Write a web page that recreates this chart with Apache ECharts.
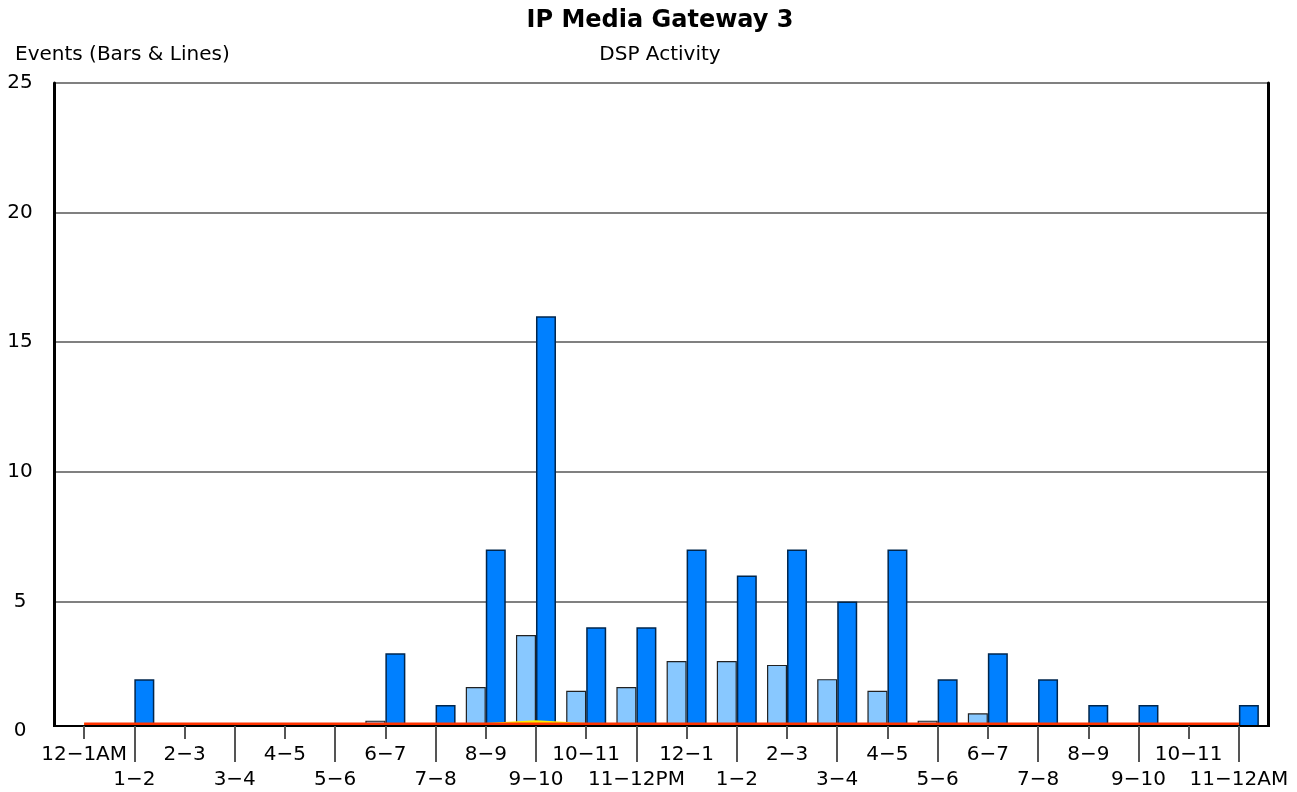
<!DOCTYPE html>
<html>
<head>
<meta charset="utf-8">
<title>IP Media Gateway 3</title>
<script src="https://cdn.jsdelivr.net/npm/echarts@6/dist/echarts.min.js"></script>
<style>
  html, body { margin: 0; padding: 0; background: #fff; }
  #chart { width: 1297px; height: 792px; }
</style>
</head>
<body>
<div id="chart"></div>
<script>
// hour buckets along the bottom
const hours = ['12−1AM', '1−2', '2−3', '3−4', '4−5', '5−6', '6−7', '7−8', '8−9', '9−10', '10−11', '11−12PM',
  '12−1', '1−2', '2−3', '3−4', '4−5', '5−6', '6−7', '7−8', '8−9', '9−10', '10−11', '11−12AM'];
// light blue bars
const lightBars = [0, 0, 0, 0, 0, 0, 0.4, 0, 1.7, 3.7, 1.55, 1.7, 2.7, 2.7, 2.55, 2, 1.55, 0.4, 0.68, 0, 0, 0, 0, 0];
// dark blue bars
const darkBars = [0, 2, 0, 0, 0, 0, 3, 1, 7, 16, 4, 4, 7, 6, 7, 5, 7, 2, 3, 2, 1, 1, 0, 1];
// the two lines near the floor
const yellowLine = [0.25, 0.25, 0.25, 0.25, 0.25, 0.25, 0.25, 0.25, 0.25, 0.36, 0.25, 0.25,
  0.25, 0.25, 0.25, 0.25, 0.25, 0.25, 0.25, 0.25, 0.25, 0.25, 0.25, 0.25];
const redLine = [0.25, 0.25, 0.25, 0.25, 0.25, 0.25, 0.25, 0.25, 0.25, 0.25, 0.25, 0.25,
  0.25, 0.25, 0.25, 0.25, 0.25, 0.25, 0.25, 0.25, 0.25, 0.25, 0.25, 0.25];

const FONT = '"DejaVu Sans", sans-serif';
const chart = echarts.init(document.getElementById('chart'));

const idx = hours.map((_, i) => i);
const evens = idx.filter(i => i % 2 === 0);
const odds = idx.filter(i => i % 2 === 1);
const pairs = arr => arr.map((v, i) => [i, v]);

function hourAxis(values, tickLen, labelMargin, showLine) {
  return {
    type: 'value',
    position: 'bottom',
    min: -0.6,
    max: 23.58,
    offset: -5,
    z: 20,
    axisLine: { show: showLine, onZero: false, lineStyle: { color: '#000', width: 2 } },
    axisTick: { show: true, customValues: values, length: tickLen, lineStyle: { color: '#555', width: 2 } },
    axisLabel: {
      customValues: values,
      margin: labelMargin,
      color: '#000',
      fontFamily: FONT,
      fontSize: 20,
      formatter: v => hours[Math.round(v)] || ''
    },
    splitLine: { show: false }
  };
}

chart.setOption({
  animation: false,
  title: [
    { text: 'IP Media Gateway 3', left: 655, top: 4, textAlign: 'center',
      textStyle: { fontFamily: FONT, fontSize: 24, fontWeight: 'bold', color: '#000' } },
    { text: 'DSP Activity', left: 655, top: 40, textAlign: 'center',
      textStyle: { fontFamily: FONT, fontSize: 20, fontWeight: 'normal', color: '#000' } },
    { text: 'Events (Bars & Lines)', left: 10, top: 40,
      textStyle: { fontFamily: FONT, fontSize: 20, fontWeight: 'normal', color: '#000' } }
  ],
  grid: { left: 54, right: 29, top: 83, bottom: 61 },
  xAxis: [
    hourAxis(evens, 13, 19, true),
    hourAxis(odds, 36, 44, false)
  ],
  yAxis: [
    {
      type: 'value', min: 0, max: 25, interval: 5,
      axisLine: { show: true, onZero: false, lineStyle: { color: '#000', width: 3 } },
      axisTick: { show: false },
      axisLabel: { margin: 34, align: 'center', color: '#000', fontFamily: FONT, fontSize: 20 },
      splitLine: { lineStyle: { color: '#808080', width: 2 } }
    },
    {
      type: 'value', position: 'right', min: 0, max: 25, interval: 5,
      axisLine: { show: true, onZero: false, lineStyle: { color: '#000', width: 3 } },
      axisTick: { show: false },
      axisLabel: { show: false },
      splitLine: { show: false }
    }
  ],
  series: [
    {
      name: 'light', type: 'bar', data: pairs(lightBars), barWidth: 20, barGap: '0%',
      itemStyle: { color: '#88c8ff', borderColor: '#222', borderWidth: 1.2 }
    },
    {
      name: 'dark', type: 'bar', data: pairs(darkBars), barWidth: 20, barGap: '0%',
      itemStyle: { color: '#0080ff', borderColor: '#00264d', borderWidth: 1.5 }
    },
    {
      name: 'yellow', type: 'line', data: pairs(yellowLine), symbol: 'none', z: 3,
      lineStyle: { color: '#ffee00', width: 3 }
    },
    {
      name: 'red', type: 'line', data: pairs(redLine), symbol: 'none', z: 4,
      lineStyle: { color: '#ff3300', width: 4 }
    }
  ]
});

// white strip hiding the bar feet below the drawn axis line
const y0 = chart.convertToPixel({ yAxisIndex: 0 }, 0);
const xL = chart.convertToPixel({ xAxisIndex: 0 }, -0.6);
const xR = chart.convertToPixel({ xAxisIndex: 0 }, 23.58);
chart.setOption({
  graphic: [{
    type: 'rect', z: 10,
    shape: { x: xL - 3, y: y0 - 4, width: xR - xL + 6, height: 8 },
    style: { fill: '#fff' }
  }]
});

window.addEventListener('resize', () => chart.resize());
</script>
</body>
</html>
